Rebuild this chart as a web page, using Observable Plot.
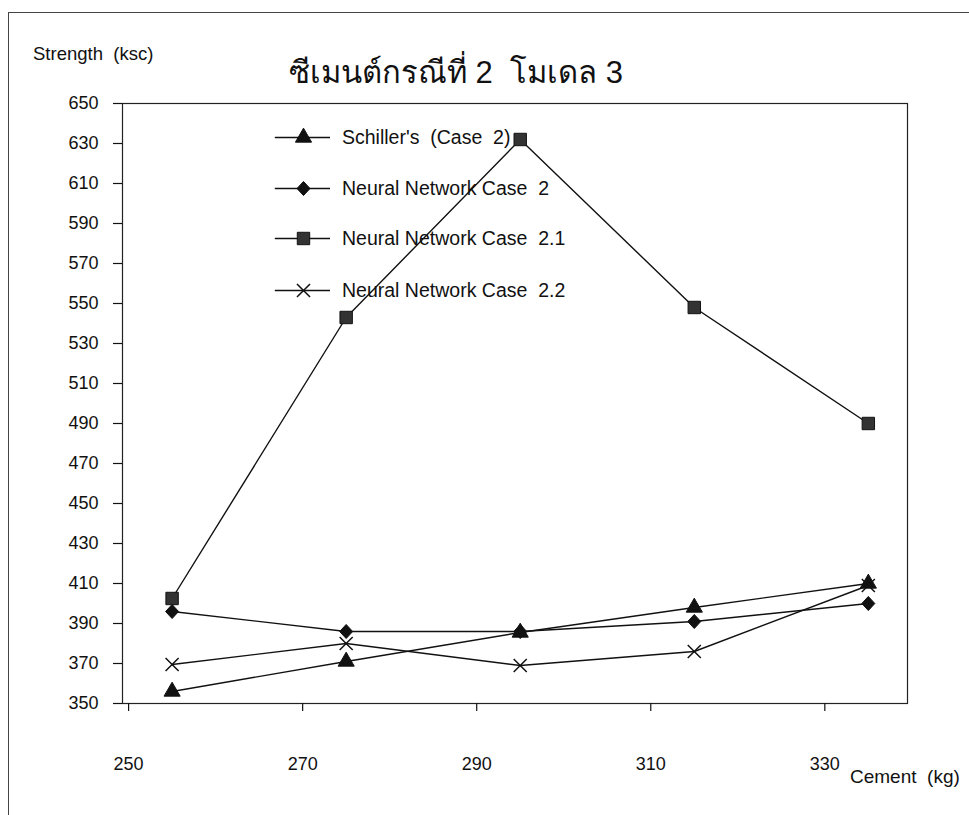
<!DOCTYPE html>
<html><head><meta charset="utf-8">
<script src="https://cdn.jsdelivr.net/npm/d3@7"></script>
<script src="https://cdn.jsdelivr.net/npm/@observablehq/plot@0.6"></script>
<style>
body{margin:0;background:#fff;}
#wrap{position:relative;width:969px;height:815px;overflow:hidden;font-family:"Liberation Sans",Arial,sans-serif;color:#111;}
#wrap svg{position:absolute;left:0;top:0;}
.t{position:absolute;white-space:pre;color:#111;}
#border{position:absolute;left:8px;top:12px;width:990px;height:830px;border:1.5px solid #444;}
.leg{position:absolute;left:270px;height:30px;display:flex;align-items:center;font-size:19.5px;white-space:pre;}
.leg svg{position:static !important;margin-right:12px;}
</style></head><body><div id="wrap"><div id="border"></div></div>
<script>
const cement = [255, 275, 295, 315, 335];
const schiller = [356, 371, 385.5, 398, 410];
const nnCase2 = [396, 386, 386, 391, 400];
const nnCase21 = [402.5, 543, 632, 548, 490];
const nnCase22 = [369.5, 380, 369, 376, 409];
const seriesNames = ["Schiller's  (Case  2)", "Neural Network Case  2", "Neural Network Case  2.1", "Neural Network Case  2.2"];
const seriesValues = [schiller, nnCase2, nnCase21, nnCase22];
const yTicks = d3.range(350, 651, 20);
const xTicks = [250, 270, 290, 310, 330];
const title = "ซีเมนต์กรณีที่ 2  โมเดล 3";
const yLabel = "Strength  (ksc)";
const xLabel = "Cement  (kg)";

// rhombus marker (roughly as wide as tall)
const rhombus = {draw(ctx, size) {
  const h = Math.sqrt(size / 2);
  ctx.moveTo(0, -h * 1.08); ctx.lineTo(h, 0); ctx.lineTo(0, h * 1.08); ctx.lineTo(-h, 0); ctx.closePath();
}};
const symbols = ["triangle", rhombus, "square", "times"];
const symbolR = [6, 5.2, 7, 6];
const fills = ["#111", "#111", "#333", "none"];

const data = seriesNames.flatMap((s, i) => cement.map((c, j) => ({series: s, cement: c, value: seriesValues[i][j]})));

const dotMarks = seriesNames.map((s, i) => Plot.dot(data.filter(d => d.series === s), {
  x: "cement", y: "value", symbol: symbols[i], r: symbolR[i],
  fill: fills[i], stroke: "#111", strokeWidth: fills[i] === "none" ? 1.5 : 1
}));

const chart = Plot.plot({
  width: 969, height: 815,
  marginLeft: 122, marginRight: 62, marginTop: 103, marginBottom: 112,
  style: {fontFamily: '"Liberation Sans", Arial, sans-serif', fontSize: "18px", color: "#111", background: "transparent"},
  x: {domain: [249.3, 339.5], label: null},
  y: {domain: [350, 650], label: null},
  marks: [
    Plot.frame({stroke: "#222", strokeWidth: 1.2}),
    Plot.axisY({ticks: yTicks, tickSize: 9, tickPadding: 15, fontSize: 18, label: null, strokeWidth: 1.2}),
    Plot.axisX({ticks: xTicks, tickSize: 8, tickPadding: 46, fontSize: 18, label: null, strokeWidth: 1.2}),
    Plot.line(data, {x: "cement", y: "value", z: "series", stroke: "#111", strokeWidth: 1.4}),
    ...dotMarks
  ]
});
const wrap = document.getElementById("wrap");
wrap.appendChild(chart);

function addText(txt, left, top, size) {
  const d = document.createElement("div");
  d.className = "t";
  d.textContent = txt;
  d.style.left = left + "px";
  d.style.top = top + "px";
  d.style.fontSize = size + "px";
  wrap.appendChild(d);
}
addText(yLabel, 33, 43, 18.5);
addText(title, 289, 47, 31);
addText(xLabel, 850, 766, 19);

const legTops = [122, 173, 223, 275];
seriesNames.forEach((s, i) => {
  const row = document.createElement("div");
  row.className = "leg";
  row.style.top = legTops[i] + "px";
  const sw = Plot.plot({
    width: 60, height: 30, margin: 0,
    x: {domain: [0, 1], axis: null}, y: {domain: [0, 1], axis: null},
    style: {background: "transparent"},
    marks: [
      Plot.ruleY([0.5], {x1: 0.08, x2: 1, stroke: "#111", strokeWidth: 1.4}),
      Plot.dot([0.55], {x: d => d, y: 0.5, symbol: symbols[i], r: symbolR[i],
        fill: fills[i], stroke: "#111", strokeWidth: fills[i] === "none" ? 1.5 : 1})
    ]
  });
  row.appendChild(sw);
  const span = document.createElement("span");
  span.textContent = s;
  row.appendChild(span);
  wrap.appendChild(row);
});
</script>
</body></html>
